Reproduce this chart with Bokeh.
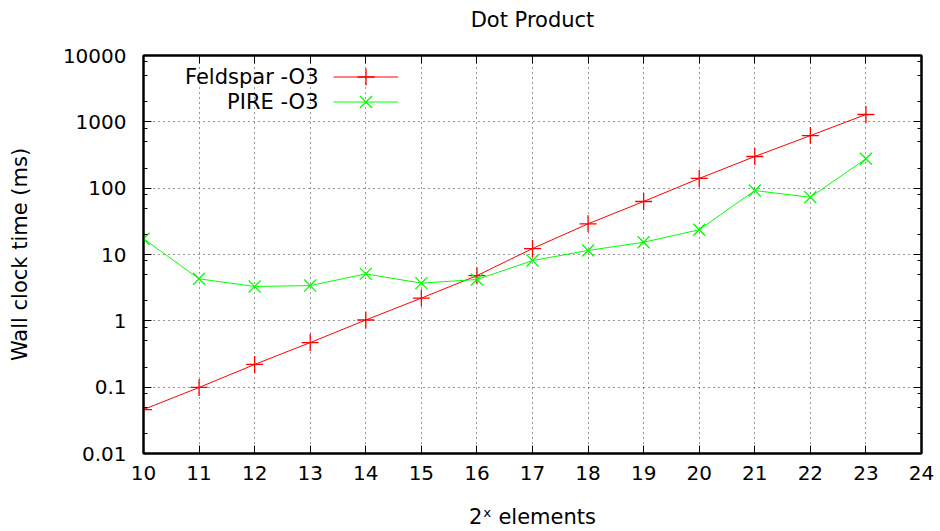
from bokeh.plotting import figure
from bokeh.models import (Label, Legend, LegendItem, FixedTicker, LinearAxis,
                          LogAxis, Range1d)
from bokeh.embed import file_html
from bokeh.resources import INLINE

# ---- data ----
x_exp = [10, 11, 12, 13, 14, 15, 16, 17, 18, 19, 20, 21, 22, 23]
feldspar = [0.046, 0.099, 0.22, 0.47, 1.03, 2.2, 4.8, 12.3, 29, 63, 140, 300, 620, 1290]
pire = [17.3, 4.3, 3.3, 3.4, 5.1, 3.7, 4.2, 8.1, 11.5, 15.3, 23.6, 92, 73, 277]
x_ticks = list(range(10, 25))
y_ticks = [0.01, 0.1, 1, 10, 100, 1000, 10000]
y_tick_labels = ["0.01", "0.1", "1", "10", "100", "1000", "10000"]
minor_mult = [2, 5, 8]
series_names = ["Feldspar -O3", "PIRE -O3"]

FONT = "DejaVu Sans"
FS = "20px"
FS2 = "21px"

p = figure(width=940, height=531, y_axis_type="log",
           x_range=Range1d(10, 24), y_range=Range1d(0.01, 10000),
           output_backend="svg", toolbar_location=None,
           min_border_left=143, min_border_right=19,
           min_border_top=55, min_border_bottom=78)
p.background_fill_color = "white"
p.border_fill_color = "white"
p.outline_line_color = "black"
p.outline_line_width = 2

# second (blank) line lifts the title away from the frame, as in the reference
p.title.text = "Dot Product\n "
p.title.align = "center"
p.title.text_font = FONT
p.title.text_font_size = FS2
p.title.text_font_style = "normal"
p.title.text_color = "black"
p.title.standoff = 0

minor = [d * m for d in y_ticks[:-1] for m in minor_mult]
yt = FixedTicker(ticks=y_ticks, minor_ticks=minor)
xt = FixedTicker(ticks=x_ticks)

p.xaxis.ticker = xt
p.yaxis.ticker = yt
p.yaxis.major_label_overrides = {v: s for v, s in zip(y_ticks, y_tick_labels)}

def style_axis(ax):
    ax.axis_line_color = "black"
    ax.axis_line_width = 2
    ax.major_tick_in = 8
    ax.major_tick_out = 0
    ax.minor_tick_in = 4
    ax.minor_tick_out = 0
    ax.major_tick_line_color = "black"
    ax.minor_tick_line_color = "black"
    ax.major_label_text_font = FONT
    ax.major_label_text_font_size = FS
    ax.major_label_text_color = "black"
    ax.axis_label_text_font = FONT
    ax.axis_label_text_font_size = FS2
    ax.axis_label_text_font_style = "normal"
    ax.axis_label_text_color = "black"

for ax in p.xaxis:
    style_axis(ax)
    ax.major_label_standoff = 12
    ax.axis_label = "2ˣ elements"
    ax.axis_label_standoff = 22
for ax in p.yaxis:
    style_axis(ax)
    ax.major_label_standoff = 17
    ax.axis_label = "Wall clock time (ms)"
    ax.axis_label_standoff = 28

top = LinearAxis(ticker=xt)
style_axis(top)
top.major_label_standoff = 0
top.major_label_overrides = {v: "" for v in x_ticks}
top.major_label_text_color = None
right = LogAxis(ticker=yt)
style_axis(right)
right.major_label_standoff = 0
right.major_label_overrides = {v: "" for v in y_ticks}
right.major_label_text_color = None
p.add_layout(top, "above")
p.add_layout(right, "right")

p.xgrid.ticker = xt
p.ygrid.ticker = yt
for g in (p.xgrid, p.ygrid):
    g.grid_line_color = "black"
    g.grid_line_alpha = 0.8
    g.grid_line_dash = "1 4"
    g.grid_line_width = 1

RED = "#ff0000"
GREEN = "#00ff00"
l1 = p.line(x_exp, feldspar, line_color=RED, line_width=1)
m1 = p.scatter(x_exp, feldspar, marker="cross", size=17, line_color=RED, line_width=1.3)
l2 = p.line(x_exp, pire, line_color=GREEN, line_width=1)
m2 = p.scatter(x_exp, pire, marker="x", size=17, line_color=GREEN, line_width=1.3)

# gnuplot-style key: text on the left, sample on the right
for rends, name, ly in (([l1, m1], series_names[0], 377), ([l2, m2], series_names[1], 352)):
    leg = Legend(items=[LegendItem(label=" ", renderers=rends)],
                 location=(190, ly - 21.5), orientation="vertical",
                 glyph_width=65, glyph_height=43, label_width=1, label_height=25,
                 label_standoff=0, spacing=0, padding=0, margin=0,
                 border_line_color=None, background_fill_alpha=0,
                 label_text_font_size="10px")
    p.add_layout(leg)
    p.add_layout(Label(x=175, y=ly, x_units="screen", y_units="screen",
                       text=name, text_align="right", text_baseline="middle",
                       text_font=FONT, text_font_size=FS2, text_color="black"))

open("out.html", "w").write(file_html(p, INLINE))
